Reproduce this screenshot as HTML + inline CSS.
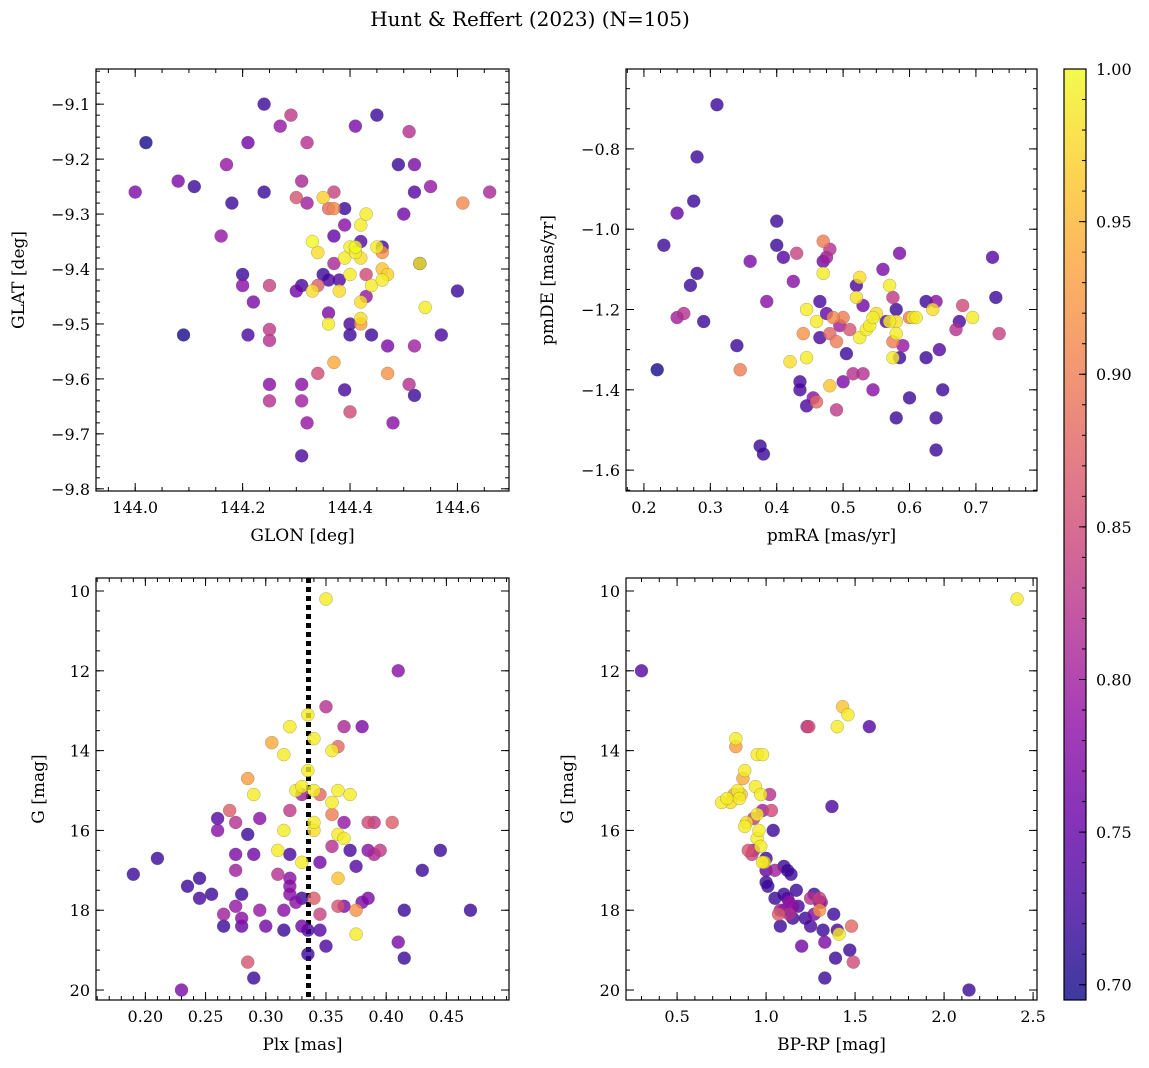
<!DOCTYPE html>
<html><head><meta charset="utf-8"><style>
html,body{margin:0;padding:0;background:#fff;}
svg{display:block;font-family:"DejaVu Serif","Liberation Serif",serif;}
</style></head><body>
<svg id="fig" width="1149" height="1068" viewBox="0 0 1149 1068" xmlns="http://www.w3.org/2000/svg">
<defs>
<linearGradient id="cbg" x1="0" y1="1" x2="0" y2="0">
<stop offset="0" stop-color="#0d0887"/><stop offset="0.1" stop-color="#41049d"/><stop offset="0.2" stop-color="#6a00a8"/><stop offset="0.3" stop-color="#8f0da4"/><stop offset="0.4" stop-color="#b12a90"/><stop offset="0.5" stop-color="#cc4778"/><stop offset="0.6" stop-color="#e16462"/><stop offset="0.7" stop-color="#f2844b"/><stop offset="0.8" stop-color="#fca636"/><stop offset="0.9" stop-color="#fcce25"/><stop offset="1" stop-color="#f0f921"/>
</linearGradient>
</defs>
<text x="530" y="26" text-anchor="middle" font-size="20">Hunt &amp; Reffert (2023) (N=105)</text>
</svg>
<script>
// ---- data (per panel: x values, y values, membership probability) ----
const tlGlon=[144.00,144.02,144.08,144.09,144.11,144.16,144.17,144.18,144.20,144.20,144.21,144.21,144.22,144.24,144.24,144.25,144.25,144.25,144.25,144.25,144.27,144.29,144.30,144.30,144.31,144.31,144.31,144.31,144.31,144.32,144.32,144.32,144.33,144.33,144.34,144.34,144.34,144.35,144.35,144.36,144.36,144.37,144.37,144.36,144.36,144.37,144.37,144.37,144.38,144.38,144.39,144.39,144.39,144.39,144.40,144.40,144.40,144.40,144.40,144.41,144.41,144.41,144.42,144.42,144.42,144.42,144.42,144.42,144.43,144.43,144.43,144.44,144.44,144.45,144.45,144.46,144.46,144.46,144.46,144.47,144.47,144.47,144.48,144.49,144.50,144.51,144.51,144.52,144.52,144.52,144.52,144.53,144.53,144.54,144.55,144.57,144.60,144.61,144.66];
const tlGlat=[-9.26,-9.17,-9.24,-9.52,-9.25,-9.34,-9.21,-9.28,-9.41,-9.43,-9.17,-9.52,-9.46,-9.10,-9.26,-9.53,-9.51,-9.61,-9.64,-9.43,-9.14,-9.12,-9.27,-9.44,-9.61,-9.64,-9.74,-9.43,-9.24,-9.17,-9.28,-9.68,-9.44,-9.35,-9.43,-9.59,-9.37,-9.27,-9.41,-9.42,-9.29,-9.26,-9.29,-9.48,-9.50,-9.57,-9.34,-9.39,-9.44,-9.42,-9.29,-9.32,-9.38,-9.62,-9.36,-9.41,-9.50,-9.52,-9.66,-9.14,-9.37,-9.36,-9.46,-9.49,-9.50,-9.35,-9.38,-9.32,-9.30,-9.45,-9.41,-9.43,-9.52,-9.36,-9.12,-9.36,-9.37,-9.40,-9.42,-9.41,-9.54,-9.59,-9.68,-9.21,-9.30,-9.15,-9.61,-9.26,-9.21,-9.54,-9.63,-9.39,-9.39,-9.47,-9.25,-9.52,-9.44,-9.28,-9.26];
const tlProb=[0.77,0.70,0.77,0.70,0.72,0.79,0.79,0.72,0.72,0.78,0.76,0.73,0.77,0.72,0.72,0.82,0.83,0.78,0.82,0.84,0.79,0.83,0.86,0.76,0.78,0.80,0.73,0.73,0.81,0.82,0.80,0.79,0.98,1.0,0.87,0.85,0.98,0.97,0.72,0.73,0.88,0.84,0.91,0.77,0.99,0.94,0.75,0.81,0.98,0.74,0.72,0.78,0.99,0.73,0.99,0.99,0.73,0.72,0.85,0.77,0.99,1.0,0.98,0.98,0.93,0.74,0.98,0.99,0.99,0.79,0.85,0.99,0.72,0.99,0.72,0.73,0.92,0.96,0.99,0.97,0.77,0.92,0.78,0.72,0.76,0.82,0.82,0.74,0.77,0.80,0.72,0.99,0.72,0.99,0.79,0.73,0.72,0.91,0.81];

const trPmra=[0.22,0.23,0.25,0.25,0.26,0.27,0.275,0.28,0.28,0.29,0.31,0.34,0.345,0.36,0.375,0.38,0.385,0.40,0.40,0.41,0.42,0.425,0.43,0.435,0.435,0.44,0.445,0.445,0.445,0.455,0.46,0.46,0.465,0.465,0.47,0.47,0.47,0.475,0.475,0.48,0.48,0.48,0.485,0.49,0.49,0.495,0.50,0.50,0.505,0.51,0.515,0.52,0.52,0.525,0.525,0.53,0.53,0.535,0.54,0.545,0.55,0.545,0.56,0.565,0.57,0.57,0.575,0.575,0.575,0.58,0.58,0.58,0.58,0.585,0.585,0.59,0.60,0.60,0.605,0.61,0.625,0.625,0.635,0.64,0.64,0.64,0.645,0.65,0.67,0.675,0.68,0.695,0.725,0.73,0.735];
const trPmde=[-1.35,-1.04,-1.22,-0.96,-1.21,-1.14,-0.93,-0.82,-1.11,-1.23,-0.69,-1.29,-1.35,-1.08,-1.54,-1.56,-1.18,-0.98,-1.04,-1.07,-1.33,-1.13,-1.06,-1.40,-1.38,-1.26,-1.20,-1.32,-1.44,-1.42,-1.43,-1.23,-1.18,-1.27,-1.08,-1.11,-1.03,-1.07,-1.21,-1.05,-1.26,-1.39,-1.22,-1.28,-1.45,-1.24,-1.38,-1.22,-1.31,-1.25,-1.36,-1.17,-1.14,-1.12,-1.27,-1.19,-1.36,-1.25,-1.24,-1.22,-1.21,-1.40,-1.10,-1.23,-1.14,-1.23,-1.28,-1.32,-1.17,-1.20,-1.26,-1.47,-1.23,-1.06,-1.32,-1.29,-1.42,-1.22,-1.22,-1.22,-1.32,-1.18,-1.20,-1.47,-1.18,-1.55,-1.30,-1.40,-1.25,-1.23,-1.19,-1.22,-1.07,-1.17,-1.26];
const trProb=[0.70,0.72,0.80,0.75,0.82,0.72,0.72,0.72,0.72,0.72,0.72,0.72,0.90,0.77,0.72,0.72,0.78,0.72,0.72,0.74,0.98,0.78,0.84,0.73,0.73,0.92,0.99,0.99,0.73,0.78,0.88,0.99,0.73,0.73,0.76,0.99,0.90,0.80,0.75,0.82,0.88,0.96,0.91,0.90,0.83,0.80,0.77,0.90,0.72,0.86,0.82,0.98,0.73,0.98,0.99,0.76,0.82,0.99,0.99,0.99,0.98,0.78,0.77,0.74,0.99,0.99,0.90,0.99,0.83,0.72,0.99,0.72,0.98,0.77,0.72,0.79,0.72,0.90,0.99,0.99,0.72,0.72,0.98,0.72,0.78,0.72,0.74,0.72,0.82,0.73,0.85,0.99,0.74,0.72,0.84];

const blPlx=[0.19,0.21,0.23,0.235,0.245,0.245,0.255,0.26,0.26,0.265,0.265,0.27,0.275,0.275,0.275,0.275,0.28,0.28,0.28,0.285,0.285,0.285,0.29,0.29,0.29,0.295,0.295,0.30,0.305,0.31,0.31,0.315,0.315,0.315,0.315,0.32,0.32,0.32,0.32,0.32,0.32,0.325,0.325,0.33,0.33,0.33,0.33,0.33,0.335,0.335,0.335,0.335,0.34,0.34,0.34,0.34,0.34,0.345,0.345,0.345,0.345,0.35,0.35,0.35,0.355,0.355,0.355,0.355,0.36,0.36,0.36,0.36,0.36,0.365,0.365,0.365,0.365,0.37,0.37,0.375,0.375,0.375,0.38,0.38,0.385,0.385,0.385,0.39,0.39,0.395,0.405,0.41,0.41,0.415,0.415,0.43,0.445,0.47];
const blG=[17.1,16.7,20.0,17.4,17.2,17.7,17.6,15.7,16.0,18.4,18.1,15.5,15.8,17.9,17.0,16.6,18.4,18.2,17.6,19.3,14.7,16.1,15.1,16.6,19.7,18.0,15.7,18.4,13.8,17.1,16.5,14.1,16.0,18.5,18.0,13.4,17.4,16.6,15.5,17.2,17.6,15.0,17.8,14.9,16.8,18.4,17.7,15.1,13.1,14.5,18.5,19.1,13.7,15.0,17.7,15.8,16.0,15.1,16.8,18.1,18.5,12.9,10.2,18.9,14.0,16.4,15.3,15.6,13.9,17.9,17.2,15.0,16.1,13.4,15.8,16.2,17.9,15.1,16.5,18.6,18.0,16.9,13.4,17.8,17.7,15.8,16.5,15.8,16.6,16.5,15.8,18.8,12.0,19.2,18.0,17.0,16.5,18.0];
const blProb=[0.72,0.72,0.77,0.72,0.72,0.73,0.72,0.74,0.78,0.72,0.80,0.87,0.82,0.79,0.80,0.77,0.75,0.78,0.72,0.86,0.93,0.72,0.99,0.76,0.72,0.79,0.78,0.76,0.94,0.82,0.99,0.99,0.99,0.72,0.78,0.99,0.78,0.73,0.83,0.78,0.78,0.99,0.78,0.99,0.99,0.76,0.72,0.80,0.99,0.99,0.73,0.72,0.99,0.99,0.87,0.99,0.98,0.88,0.76,0.84,0.74,0.82,0.99,0.73,0.99,0.82,0.99,0.90,0.88,0.86,0.96,0.99,0.99,0.81,0.79,0.99,0.77,0.99,0.73,0.99,0.92,0.74,0.77,0.77,0.77,0.85,0.78,0.83,0.81,0.83,0.87,0.77,0.78,0.72,0.72,0.72,0.72,0.72];
const blPlxLine=[0.3355];

const brBpRp=[0.30,0.75,0.78,0.80,0.82,0.83,0.83,0.84,0.85,0.86,0.87,0.88,0.88,0.89,0.90,0.92,0.93,0.93,0.94,0.95,0.95,0.95,0.96,0.97,0.97,0.98,0.98,0.98,0.99,1.00,1.00,1.00,1.01,1.02,1.03,1.04,1.05,1.05,1.07,1.08,1.08,1.10,1.10,1.10,1.12,1.12,1.13,1.13,1.14,1.15,1.15,1.17,1.18,1.20,1.22,1.23,1.24,1.25,1.25,1.27,1.27,1.30,1.30,1.30,1.31,1.32,1.33,1.33,1.37,1.38,1.39,1.40,1.40,1.41,1.43,1.46,1.47,1.48,1.49,1.58,2.14,2.41];
const brG=[12.0,15.3,15.2,15.3,15.1,13.7,13.9,15.0,15.2,15.1,14.7,14.5,15.9,15.8,16.5,16.6,16.5,15.7,14.9,14.1,15.6,16.2,16.0,16.4,15.1,14.1,16.8,15.5,16.8,17.0,16.7,17.3,17.4,15.1,15.5,16.0,17.0,17.7,18.1,18.0,18.4,16.9,17.6,18.0,17.0,17.7,17.8,18.1,17.1,17.9,18.2,17.5,17.9,18.9,18.2,13.4,13.4,17.7,18.4,17.6,18.1,17.8,18.0,17.7,17.8,18.5,19.7,18.8,15.4,18.1,19.2,13.4,18.5,18.6,12.9,13.1,19.0,18.4,19.3,13.4,20.0,10.2];
const brProb=[0.74,0.99,0.99,0.98,0.93,0.99,0.93,0.99,0.99,0.96,0.94,0.99,0.99,0.98,0.86,0.84,0.80,0.83,0.99,0.99,0.99,0.99,0.99,0.99,0.99,0.99,0.99,0.80,0.98,0.75,0.72,0.72,0.72,0.82,0.85,0.72,0.80,0.72,0.87,0.80,0.72,0.72,0.72,0.73,0.72,0.74,0.79,0.82,0.72,0.78,0.72,0.72,0.73,0.76,0.72,0.82,0.85,0.82,0.73,0.72,0.77,0.78,0.92,0.84,0.79,0.72,0.72,0.77,0.73,0.72,0.72,0.99,0.73,0.99,0.96,0.99,0.72,0.88,0.85,0.74,0.72,0.99];

const cbTicks=[0.70,0.75,0.80,0.85,0.90,0.95,1.00];

// ---- rendering ----
const NS="http://www.w3.org/2000/svg";
const svg=document.getElementById('fig');
const PMIN=0.695,PMAX=1.0;
const stops=[[13,8,135],[65,4,157],[106,0,168],[143,13,164],[177,42,144],[204,71,120],[225,100,98],[242,132,75],[252,166,54],[252,206,37],[240,249,33]];
function plasma(p){let t=(p-PMIN)/(PMAX-PMIN);t=Math.max(0,Math.min(1,t))*10;const i=Math.min(9,Math.floor(t)),f=t-i;const a=stops[i],b=stops[i+1];return 'rgb('+a.map((v,k)=>Math.round(v+(b[k]-v)*f)).join(',')+')';}
function el(tag,attrs,parent){const e=document.createElementNS(NS,tag);for(const k in attrs)e.setAttribute(k,attrs[k]);(parent||svg).appendChild(e);return e;}
function fmt(v,d){return (v<0?'\u2212':'')+Math.abs(v).toFixed(d);}

function panel(cfg){
  const g=el('g',{});
  
  
  const {x0,x1,y0,y1}=cfg.box;
  const sx=v=>x0+(v-cfg.xr[0])/(cfg.xr[1]-cfg.xr[0])*(x1-x0);
  const sy=v=>y0+(v-cfg.yr[0])/(cfg.yr[1]-cfg.yr[0])*(y1-y0);
  if(cfg.vline){cfg.vline.forEach(v=>{const l=el('line',{x1:sx(v),x2:sx(v),y1:y0,y2:y1,stroke:'#000','stroke-width':5,'stroke-dasharray':'5,4'},g);});}
  const idx=cfg.xs.map((_,i)=>i).sort((a,b)=>cfg.ps[a]-cfg.ps[b]);
  idx.forEach(i=>{const c=el('circle',{cx:sx(cfg.xs[i]),cy:sy(cfg.ys[i]),r:6.5,fill:plasma(cfg.ps[i]),'fill-opacity':0.8,stroke:'#555','stroke-width':0.4,'stroke-opacity':0.6},g);
    
    });
  el('rect',{x:x0,y:Math.min(y0,y1),width:x1-x0,height:Math.abs(y1-y0),fill:'none',stroke:'#000','stroke-width':1.2},g);
  const top=Math.min(y0,y1),bot=Math.max(y0,y1);
  for(let v=cfg.xminor[0];v<=cfg.xr[1]+1e-9;v+=cfg.xminor[1]){if(v<cfg.xr[0])continue;const x=sx(v);el('line',{x1:x,x2:x,y1:bot,y2:bot-4,stroke:'#000'},g);el('line',{x1:x,x2:x,y1:top,y2:top+4,stroke:'#000'},g);}
  cfg.xticks.forEach(v=>{const x=sx(v);el('line',{x1:x,x2:x,y1:bot,y2:bot-8,stroke:'#000'},g);el('line',{x1:x,x2:x,y1:top,y2:top+8,stroke:'#000'},g);
    const t=el('text',{x:x,y:bot+22,'text-anchor':'middle','font-size':16},g);t.textContent=fmt(v,cfg.xd);
    
    });
  for(let v=cfg.yminor[0];v<=cfg.yminor[2]+1e-9;v+=cfg.yminor[1]){const y=sy(v);if(y<top-0.1||y>bot+0.1)continue;el('line',{x1:x0,x2:x0+4,y1:y,y2:y,stroke:'#000'},g);el('line',{x1:x1,x2:x1-4,y1:y,y2:y,stroke:'#000'},g);}
  cfg.yticks.forEach(v=>{const y=sy(v);el('line',{x1:x0,x2:x0+8,y1:y,y2:y,stroke:'#000'},g);el('line',{x1:x1,x2:x1-8,y1:y,y2:y,stroke:'#000'},g);
    const t=el('text',{x:x0-6,y:y+6,'text-anchor':'end','font-size':16},g);t.textContent=fmt(v,cfg.yd);
    
    });
  const xl=el('text',{x:(x0+x1)/2,y:bot+50,'text-anchor':'middle','font-size':17},g);xl.textContent=cfg.xlabel;
  
  
  const ly=(top+bot)/2;
  const yl=el('text',{x:cfg.ylx,y:ly,'text-anchor':'middle','font-size':17,transform:'rotate(-90 '+cfg.ylx+' '+ly+')'},g);yl.textContent=cfg.ylabel;
  
  
}
panel({name:'panel-glon-glat',box:{x0:96,x1:509,y0:69,y1:491},xr:[143.927,144.696],yr:[-9.036,-9.804],xs:tlGlon,ys:tlGlat,ps:tlProb,
  xticks:[144.0,144.2,144.4,144.6],xd:1,xminor:[143.95,0.05],yticks:[-9.1,-9.2,-9.3,-9.4,-9.5,-9.6,-9.7,-9.8],yd:1,yminor:[-9.8,0.02,-9.04],xlabel:'GLON [deg]',ylabel:'GLAT [deg]',ylx:24});
panel({name:'panel-pm',box:{x0:626,x1:1037,y0:69,y1:491},xr:[0.173,0.792],yr:[-0.601,-1.652],xs:trPmra,ys:trPmde,ps:trProb,
  xticks:[0.2,0.3,0.4,0.5,0.6,0.7],xd:1,xminor:[0.175,0.025],yticks:[-0.8,-1.0,-1.2,-1.4,-1.6],yd:1,yminor:[-1.65,0.05,-0.6],xlabel:'pmRA [mas/yr]',ylabel:'pmDE [mas/yr]',ylx:553});
panel({name:'panel-plx-g',box:{x0:96,x1:509,y0:578,y1:1000},xr:[0.159,0.502],yr:[9.674,20.25],xs:blPlx,ys:blG,ps:blProb,vline:blPlxLine,
  xticks:[0.20,0.25,0.30,0.35,0.40,0.45],xd:2,xminor:[0.16,0.01],yticks:[10,12,14,16,18,20],yd:0,yminor:[10,0.5,20.25],xlabel:'Plx [mas]',ylabel:'G [mag]',ylx:44});
panel({name:'panel-cmd',box:{x0:626,x1:1037,y0:578,y1:1000},xr:[0.213,2.522],yr:[9.674,20.25],xs:brBpRp,ys:brG,ps:brProb,
  xticks:[0.5,1.0,1.5,2.0,2.5],xd:1,xminor:[0.3,0.1],yticks:[10,12,14,16,18,20],yd:0,yminor:[10,0.5,20.25],xlabel:'BP-RP [mag]',ylabel:'G [mag]',ylx:573});

const cb=el('g',{});


const cy=v=>69+(PMAX-v)/(PMAX-PMIN)*931;
el('rect',{x:1064,y:69,width:22,height:931,fill:'url(#cbg)','fill-opacity':0.8},cb);
el('rect',{x:1064,y:69,width:22,height:931,fill:'none',stroke:'#000','stroke-width':1.2},cb);
for(let v=0.70;v<=1.0001;v+=0.01){const y=cy(v);el('line',{x1:1086,x2:1082,y1:y,y2:y,stroke:'#000'},cb);}
cbTicks.forEach(v=>{const y=cy(v);el('line',{x1:1086,x2:1079,y1:y,y2:y,stroke:'#000'},cb);
  const t=el('text',{x:1096,y:y+6,'font-size':16},cb);t.textContent=v.toFixed(2);
  
  });
</script>
</body></html>
